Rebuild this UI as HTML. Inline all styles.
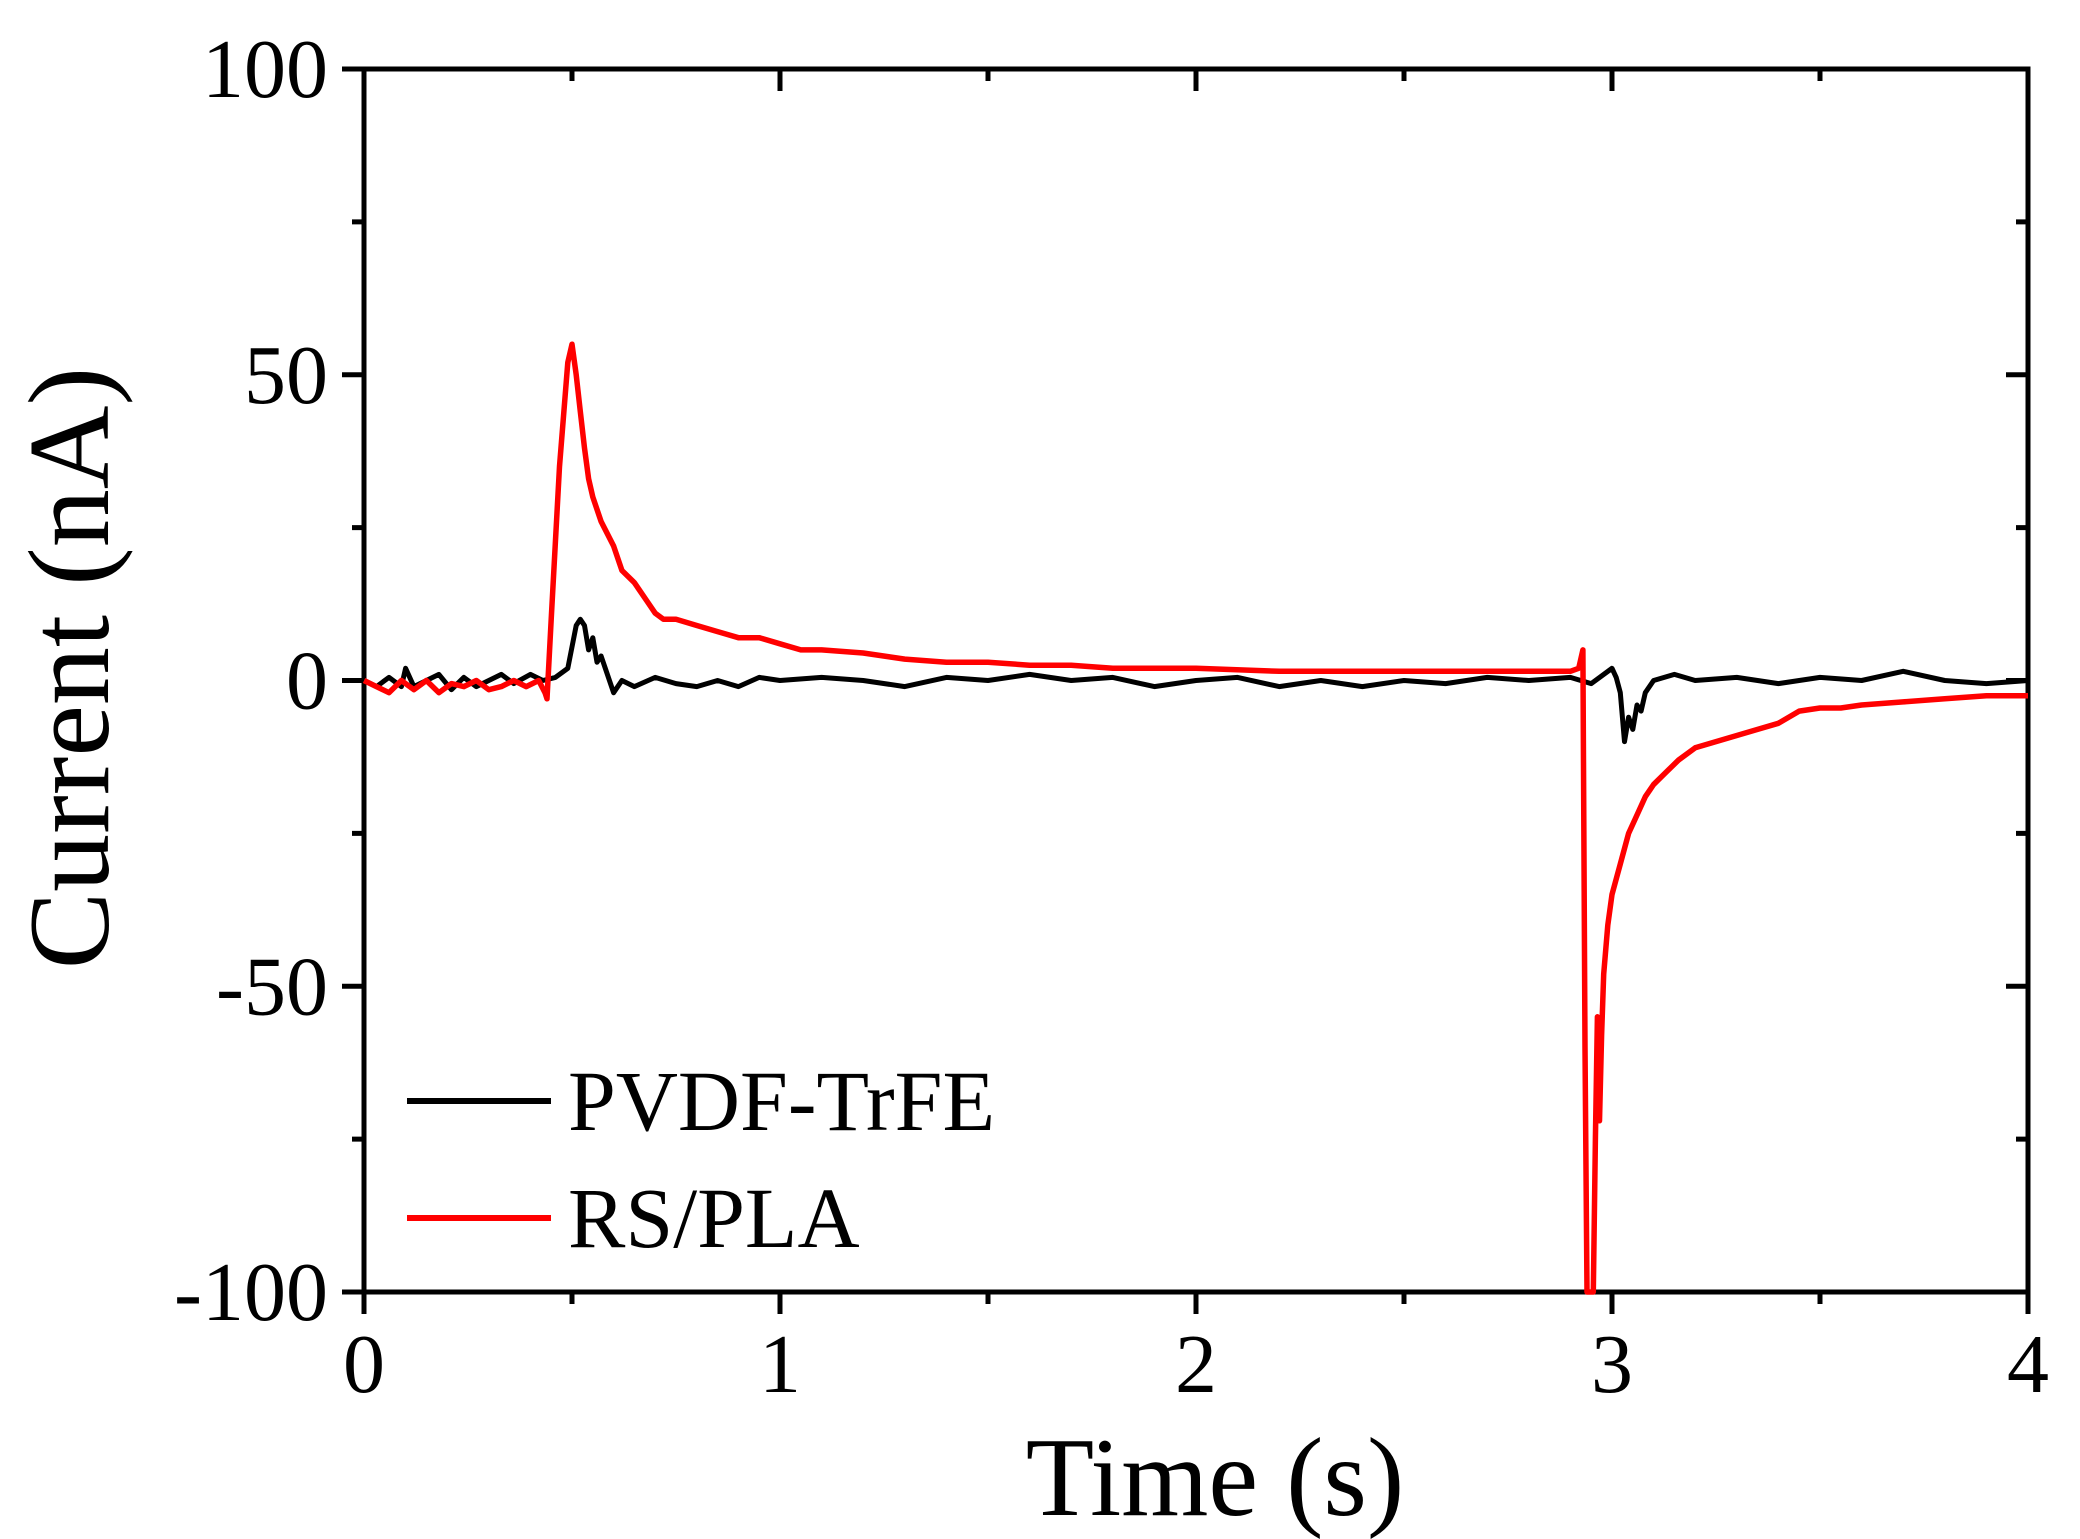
<!DOCTYPE html>
<html><head><meta charset="utf-8"><style>
html,body{margin:0;padding:0;background:#fff;}
svg{display:block;font-family:"Liberation Serif",serif;}
</style></head><body>
<svg id="chart" width="2080" height="1539" viewBox="0 0 2080 1539">
<g id="axes"></g>
<g id="series"></g>
<g>
 <line x1="407" y1="1101" x2="551" y2="1101" stroke="#000" stroke-width="6"/>
 <text x="568" y="1130" font-size="86">PVDF-TrFE</text>
 <line x1="407" y1="1218" x2="551" y2="1218" stroke="#ff0000" stroke-width="6"/>
 <text x="568" y="1247" font-size="86">RS/PLA</text>
</g>
<text x="1215" y="1515" font-size="112" text-anchor="middle">Time (s)</text>
<text transform="translate(108,668) rotate(-90)" font-size="116" text-anchor="middle">Current (nA)</text>
</svg>
<script>
const xTicks = [0, 1, 2, 3, 4];
const yTicks = [-100, -50, 0, 50, 100];
const blackT = [0,0.03,0.06,0.09,0.1,0.12,0.15,0.18,0.21,0.24,0.27,0.3,0.33,0.36,0.4,0.43,0.46,0.49,0.51,0.52,0.53,0.54,0.55,0.56,0.57,0.58,0.6,0.62,0.65,0.7,0.75,0.8,0.85,0.9,0.95,1.0,1.1,1.2,1.3,1.4,1.5,1.6,1.7,1.8,1.9,2.0,2.1,2.2,2.3,2.4,2.5,2.6,2.7,2.8,2.9,2.95,3.0,3.01,3.02,3.03,3.04,3.05,3.06,3.07,3.08,3.1,3.15,3.2,3.3,3.4,3.5,3.6,3.7,3.8,3.9,4.0];
const blackV = [0,-1,0.5,-1,2,-1,0,1,-1.5,0.5,-1,0,1,-0.5,1,0,0.5,2,9,10,9,5,7,3,4,2,-2,0,-1,0.5,-0.5,-1,0,-1,0.5,0,0.5,0,-1,0.5,0,1,0,0.5,-1,0,0.5,-1,0,-1,0,-0.5,0.5,0,0.5,-0.5,2,0.5,-2,-10,-6,-8,-4,-5,-2,0,1,0,0.5,-0.5,0.5,0,1.5,0,-0.5,0];
const redT = [0,0.03,0.06,0.09,0.12,0.15,0.18,0.21,0.24,0.27,0.3,0.33,0.36,0.39,0.42,0.435,0.44,0.45,0.47,0.49,0.5,0.51,0.52,0.53,0.54,0.55,0.57,0.6,0.62,0.65,0.68,0.7,0.72,0.75,0.8,0.85,0.9,0.95,1.0,1.05,1.1,1.2,1.3,1.4,1.5,1.6,1.7,1.8,1.9,2.0,2.2,2.4,2.6,2.8,2.9,2.92,2.93,2.935,2.94,2.95,2.955,2.96,2.965,2.97,2.975,2.98,2.99,3.0,3.02,3.04,3.06,3.08,3.1,3.13,3.16,3.2,3.25,3.3,3.35,3.4,3.45,3.5,3.55,3.6,3.7,3.8,3.9,4.0];
const redV = [0,-1,-2,0,-1.5,0,-2,-0.5,-1,0,-1.5,-1,0,-1,0,-2,-3,10,35,52,55,50,44,38,33,30,26,22,18,16,13,11,10,10,9,8,7,7,6,5,5,4.5,3.5,3,3,2.5,2.5,2,2,2,1.5,1.5,1.5,1.5,1.5,2,5,-60,-100,-100,-100,-75,-55,-72,-58,-48,-40,-35,-30,-25,-22,-19,-17,-15,-13,-11,-10,-9,-8,-7,-5,-4.5,-4.5,-4,-3.5,-3,-2.5,-2.5];

const NS = 'http://www.w3.org/2000/svg';
const X0 = 364, X1 = 2028, Y0 = 1292, Y1 = 69;
const xScale = v => X0 + (v - 0) / 4 * (X1 - X0);
const yScale = v => Y0 - (v + 100) / 200 * (Y0 - Y1);
const axes = document.getElementById('axes');
const series = document.getElementById('series');
function mk(tag, attrs, parent) {
  const e = document.createElementNS(NS, tag);
  for (const k in attrs) e.setAttribute(k, attrs[k]);
  parent.appendChild(e);
  return e;
}
const frame = mk('rect', {x: X0, y: Y1, width: X1 - X0, height: Y0 - Y1, fill: 'none', stroke: '#000', 'stroke-width': 5}, axes);


for (let v = 0; v <= 4.001; v += 0.5) {
  const x = xScale(v), major = Math.abs(v - Math.round(v)) < 1e-6;
  const len = major ? 22 : 12;
  const t = mk('line', {x1: x, y1: Y0, x2: x, y2: Y0 + len, stroke: '#000', 'stroke-width': 5}, axes);
  
  
  const t2 = mk('line', {x1: x, y1: Y1, x2: x, y2: Y1 + len, stroke: '#000', 'stroke-width': 5}, axes);
  
  
}
xTicks.forEach(v => {
  const t = mk('text', {x: xScale(v), y: Y0 + 100, 'font-size': 84, 'text-anchor': 'middle'}, axes);
  t.textContent = v;
  
  
});
for (let v = -100; v <= 100; v += 25) {
  const y = yScale(v), major = v % 50 === 0;
  const len = major ? 22 : 12;
  const t = mk('line', {x1: X0 - len, y1: y, x2: X0, y2: y, stroke: '#000', 'stroke-width': 5}, axes);
  
  
  const t2 = mk('line', {x1: X1 - len, y1: y, x2: X1, y2: y, stroke: '#000', 'stroke-width': 5}, axes);
  
  
}
yTicks.forEach(v => {
  const t = mk('text', {x: X0 - 36, y: yScale(v) + 28, 'font-size': 84, 'text-anchor': 'end'}, axes);
  t.textContent = v;
  
  
});
function pathFor(ts, vs) {
  return ts.map((t, i) => (i ? 'L' : 'M') + xScale(t).toFixed(1) + ',' + yScale(Math.max(-100, vs[i])).toFixed(1)).join(' ');
}
const pb = mk('path', {d: pathFor(blackT, blackV), fill: 'none', stroke: '#000', 'stroke-width': 5, 'stroke-linejoin': 'round'}, series);


const pr = mk('path', {d: pathFor(redT, redV), fill: 'none', stroke: '#ff0000', 'stroke-width': 5.5, 'stroke-linejoin': 'round'}, series);


</script>
</body></html>
